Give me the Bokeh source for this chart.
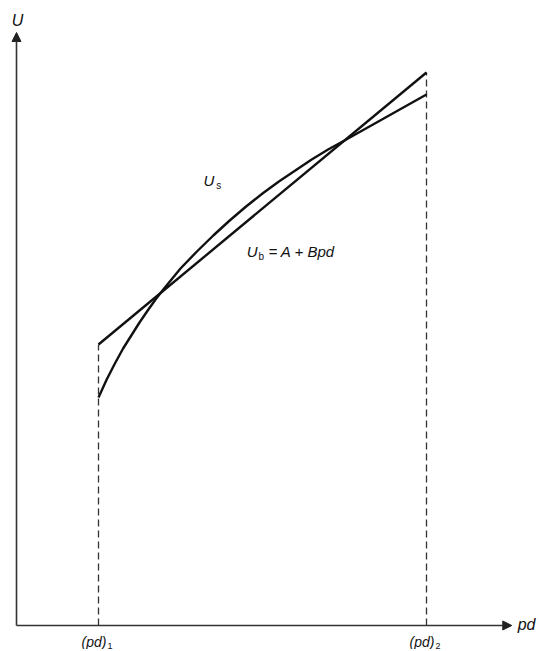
from bokeh.plotting import figure
from bokeh.models import Arrow, NormalHead, Range1d
from bokeh.core.properties import value
from bokeh.embed import file_html
from bokeh.resources import INLINE

# --- data ---
pd_limits = [1.0, 5.0]            # (pd)_1, (pd)_2
A, B = 2.13, 0.68                 # Ub = A + B pd
us_pd = [1.0, 1.05, 1.1, 1.15, 1.2, 1.3, 1.4, 1.5, 1.6, 1.7, 1.8, 1.9, 2.0, 2.2, 2.4,
         2.6, 2.8, 3.0, 3.2, 3.4, 3.6, 3.8, 4.0, 4.25, 4.5, 4.75, 5.0]
us_val = [2.28, 2.37, 2.46, 2.54, 2.62, 2.77, 2.90, 3.03, 3.15, 3.265, 3.37, 3.47, 3.57,
          3.74, 3.90, 4.05, 4.19, 4.32, 4.44, 4.55, 4.66, 4.76, 4.85, 4.965, 5.08, 5.195, 5.31]
x_axis_end = 6.04
y_axis_end = 5.93
limit_labels = ["1", "2"]

ub_val = [A + B * x for x in pd_limits]

W, H = 537, 649
x0 = -16 / 82
y1 = 6.25
p = figure(width=W, height=H, output_backend="svg", toolbar_location=None,
           x_range=Range1d(x0, x0 + W / 82), y_range=Range1d(y1 - H / 100, y1),
           x_axis_location=None, y_axis_location=None,
           min_border=0, min_border_left=0, min_border_right=0,
           min_border_top=0, min_border_bottom=0)
p.grid.visible = False
p.outline_line_color = None
p.background_fill_color = "white"
p.border_fill_color = "white"

ink = "#111111"
font = value("Liberation Sans")

# axes with arrows
p.add_layout(Arrow(end=NormalHead(size=9, fill_color="#222222", line_color="#222222"),
                   x_start=0, y_start=0, x_end=0, y_end=y_axis_end,
                   line_color="#333333", line_width=1.6))
p.add_layout(Arrow(end=NormalHead(size=9, fill_color="#222222", line_color="#222222"),
                   x_start=0, y_start=0, x_end=x_axis_end, y_end=0,
                   line_color="#333333", line_width=1.6))

# dashed verticals
for xv, yv in zip(pd_limits, ub_val):
    p.line([xv, xv], [0, yv], line_color="#333333", line_width=1.3, line_dash="7 4")

# Ub line and Us curve
p.line(pd_limits, ub_val, line_color=ink, line_width=2.4)
p.line(us_pd, us_val, line_color=ink, line_width=2.4, line_join="round")

# axis labels
p.text([0.012], [6.05], text=["U"], text_font=font, text_font_style="italic",
       text_font_size="16px", text_align="center", text_baseline="middle", text_color=ink)
p.text([6.22], [0.01], text=["pd"], text_font=font, text_font_style="italic",
       text_font_size="16px", text_align="center", text_baseline="middle", text_color=ink)

# (pd)_1, (pd)_2
p.text(pd_limits, [-0.16, -0.16], text=["(pd)", "(pd)"], x_offset=8,
       text_font=font, text_font_style="italic", text_font_size="14px",
       text_align="right", text_baseline="middle", text_color=ink)
p.text(pd_limits, [-0.20, -0.20], text=limit_labels, x_offset=9,
       text_font=font, text_font_size="9px",
       text_align="left", text_baseline="middle", text_color=ink)

# Us label
p.text([2.40], [4.45], text=["U"], x_offset=1, text_font=font, text_font_style="italic",
       text_font_size="15px", text_align="right", text_baseline="middle", text_color=ink)
p.text([2.40], [4.40], text=["s"], x_offset=3, text_font=font,
       text_font_size="10px", text_align="left", text_baseline="middle", text_color=ink)

# Ub label
p.text([2.939], [3.74], text=["U"], x_offset=0, text_font=font, text_font_style="italic",
       text_font_size="15px", text_align="right", text_baseline="middle", text_color=ink)
p.text([2.939], [3.69], text=["b"], x_offset=1, text_font=font,
       text_font_size="10px", text_align="left", text_baseline="middle", text_color=ink)
p.text([2.939], [3.74], text=["= A + Bpd"], x_offset=11, text_font=font, text_font_style="italic",
       text_font_size="15px", text_align="left", text_baseline="middle", text_color=ink)

open("out.html", "w").write(file_html(p, INLINE))
